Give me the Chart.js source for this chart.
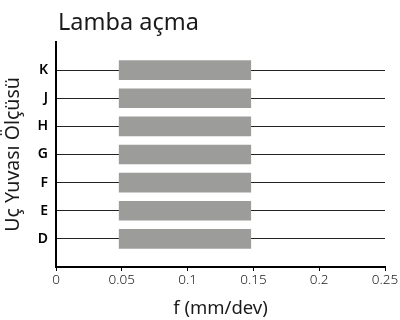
<!DOCTYPE html>
<html>
<head>
<meta charset="utf-8">
<script src="https://cdn.jsdelivr.net/npm/chart.js@4/dist/chart.umd.min.js"></script>
<style>
html,body{margin:0;padding:0;background:#fff;}
#wrap{width:400px;height:320px;position:relative;}
</style>
</head>
<body>
<div id="wrap"><canvas id="c" width="400" height="320"></canvas></div>
<script>
const chartTitle = 'Lamba açma';
const categories = ['K','J','H','G','F','E','D'];
const barStart = [0.048,0.048,0.048,0.048,0.048,0.048,0.048];
const barEnd = [0.148,0.148,0.148,0.148,0.148,0.148,0.148];
const xTickLabels = ['0','0.05','0.1','0.15','0.2','0.25'];
const xTitle = 'f (mm/dev)';
const yTitle = 'Uç Yuvası Ölçüsü';

const labels = [''].concat(categories, ['']);
const barData = [null].concat(categories.map((c,i)=>[barStart[i], barEnd[i]]), [null]);
const FONT = '"Noto Sans", "DejaVu Sans", sans-serif';

const titlePlugin = {
  id:'leftTitle',
  afterDraw(chart){
    const ctx = chart.ctx;
    ctx.save();
    ctx.font = '400 23.5px ' + FONT;
    ctx.fillStyle = '#1a1a1a';
    ctx.textBaseline = 'alphabetic';
    ctx.textAlign = 'left';
    ctx.fillText(chartTitle, chart.chartArea.left + 2, 30);
    ctx.restore();
  }
};

new Chart(document.getElementById('c'), {
  type:'bar',
  data:{
    labels: labels,
    datasets:[{
      data: barData,
      backgroundColor:'#9c9c9b',
      borderWidth:0,
      barThickness:19
    }]
  },
  plugins:[titlePlugin],
  options:{
    indexAxis:'y',
    responsive:false,
    animation:false,
    devicePixelRatio:1,
    layout:{padding:{top:42,right:15,left:0,bottom:0}},
    plugins:{legend:{display:false},tooltip:{enabled:false},title:{display:false}},
    scales:{
      x:{
        type:'linear',
        min:0,max:0.25,
        afterFit:(s)=>{s.height = 53;},
        ticks:{
          stepSize:0.05,
          color:'#1a1a1a',
          font:{family:FONT,size:13.5,weight:'300'},
          padding:1,
          maxRotation:0,
          callback:(v,i)=>xTickLabels[i]
        },
        grid:{drawOnChartArea:false,tickLength:4,tickColor:'#000'},
        border:{color:'#000',width:2},
        title:{display:true,text:xTitle,color:'#1a1a1a',font:{family:FONT,size:18.5,weight:'400'},padding:{top:0,bottom:0}}
      },
      y:{
        type:'category',
        offset:false,
        afterFit:(s)=>{s.width = 56;},
        ticks:{
          color:'#000',
          font:{family:FONT,size:14,weight:'600'},
          padding:8,
          autoSkip:false
        },
        grid:{
          offset:false,
          drawTicks:false,
          color:(ctx)=> (ctx.index===0 || ctx.index===labels.length-1) ? 'rgba(0,0,0,0)' : '#222',
          lineWidth:1
        },
        border:{color:'#000',width:2},
        title:{display:true,text:yTitle,color:'#1a1a1a',font:{family:FONT,size:19.5,weight:'400'},padding:{top:2,bottom:0}}
      }
    }
  }
});
</script>
</body>
</html>
